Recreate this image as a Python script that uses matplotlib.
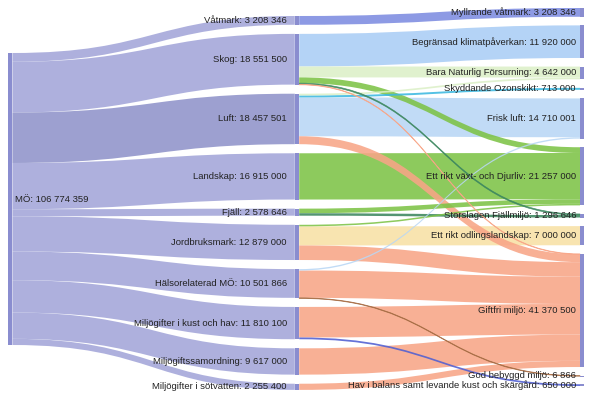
import matplotlib
matplotlib.use("Agg")
import matplotlib.pyplot as plt
from matplotlib.path import Path
from matplotlib.patches import PathPatch, Rectangle

# ---------------- data ----------------
root_name = "MÖ"
middle_names = ["Våtmark", "Skog", "Luft", "Landskap", "Fjäll", "Jordbruksmark",
                "Hälsorelaterad MÖ", "Miljögifter i kust och hav",
                "Miljögiftssamordning", "Miljögifter i sötvatten"]
middle_values = [3208346, 18551500, 18457501, 16915000, 2578646, 12879000,
                 10501866, 11810100, 9617000, 2255400]
right_names = ["Myllrande våtmark", "Begränsad klimatpåverkan", "Bara Naturlig Försurning",
               "Skyddande Ozonskikt", "Frisk luft", "Ett rikt växt- och Djurliv",
               "Storslagen Fjällmiljö", "Ett rikt odlingslandskap", "Giftfri miljö",
               "God bebyggd miljö", "Hav i balans samt levande kust och skärgård"]
link_src = ["Våtmark",
            "Skog", "Skog", "Skog", "Skog", "Skog",
            "Luft", "Luft", "Luft", "Luft",
            "Landskap",
            "Fjäll", "Fjäll",
            "Jordbruksmark", "Jordbruksmark", "Jordbruksmark",
            "Hälsorelaterad MÖ", "Hälsorelaterad MÖ", "Hälsorelaterad MÖ",
            "Miljögifter i kust och hav", "Miljögifter i kust och hav",
            "Miljögiftssamordning",
            "Miljögifter i sötvatten"]
link_dst = ["Myllrande våtmark",
            "Begränsad klimatpåverkan", "Bara Naturlig Försurning", "Ett rikt växt- och Djurliv",
            "Storslagen Fjällmiljö", "Giftfri miljö",
            "Bara Naturlig Försurning", "Skyddande Ozonskikt", "Frisk luft", "Giftfri miljö",
            "Ett rikt växt- och Djurliv",
            "Ett rikt växt- och Djurliv", "Storslagen Fjällmiljö",
            "Ett rikt växt- och Djurliv", "Ett rikt odlingslandskap", "Giftfri miljö",
            "Frisk luft", "Giftfri miljö", "God bebyggd miljö",
            "Giftfri miljö", "Hav i balans samt levande kust och skärgård",
            "Giftfri miljö",
            "Giftfri miljö"]
link_val = [3208346,
            11920000, 4000000, 2100000, 396500, 135000,
            642000, 713000, 14202501, 2900000,
            16915000,
            1678500, 900146,
            563500, 7000000, 5315500,
            507500, 9987500, 6866,
            11160100, 650000,
            9617000,
            2255400]

# ---------------- styles ----------------
middle_link_colors = ["#a5a8da", "#a5a8da", "#9296cb", "#a5a8da", "#a5a8da", "#a5a8da",
                      "#a5a8da", "#a5a8da", "#a5a8da", "#a5a8da"]
right_link_colors = ["#7d8ce1", "#aacdf5", "#dcf0c8", "#3cb9e1", "#b9d7f5", "#7dc346",
                     "#3c875f", "#f8e1a5", "#f8a587", "#a86e46", "#505fd2"]
node_color = "#8a8dcf"
font_family = ["Liberation Sans", "DejaVu Sans"]
fsize = 6.8

W, H = 592, 395
fig = plt.figure(figsize=(W / 100, H / 100), dpi=100)
ax = fig.add_axes([0, 0, 1, 1])
ax.set_xlim(0, W)
ax.set_ylim(H, 0)
ax.axis("off")

# ---------------- layout ----------------
total = sum(middle_values)
k = 292.0 / total
left_top = 53.0
mid_top, mid_gap = 16.0, 9.1
right_top, right_gap = 8.0, 8.6
nw = 4.4
x_left, x_mid, x_right = 8.0, 294.8, 580.0

right_values = [sum(v for d, v in zip(link_dst, link_val) if d == n) for n in right_names]


def stack(top, gap, values):
    ys = []
    y = top
    for v in values:
        ys.append(y)
        y += max(v * k, 0.0) + gap
    return ys


mid_y = stack(mid_top, mid_gap, middle_values)
right_y = stack(right_top, right_gap, right_values)

patches = []


def band(x0, y0, x1, y1, w, color, alpha=0.9):
    xm = (x0 + x1) / 2.0
    verts = [(x0, y0), (xm, y0), (xm, y1), (x1, y1), (x1, y1 + w),
             (xm, y1 + w), (xm, y0 + w), (x0, y0 + w), (x0, y0)]
    codes = [Path.MOVETO, Path.CURVE4, Path.CURVE4, Path.CURVE4, Path.LINETO,
             Path.CURVE4, Path.CURVE4, Path.CURVE4, Path.CLOSEPOLY]
    lw = 0.5 if w < 1.2 else 0
    p = PathPatch(Path(verts, codes), facecolor=color, edgecolor=color,
                  linewidth=lw, alpha=alpha)
    patches.append((w, p))


# stage 1: root -> middle
y = left_top
for i, v in enumerate(middle_values):
    w = v * k
    band(x_left + nw, y, x_mid, mid_y[i], w, middle_link_colors[i])
    y += w

# stage 2: middle -> right
links = list(zip(link_src, link_dst, link_val))
src_off = {n: mid_y[i] for i, n in enumerate(middle_names)}
dst_off = {n: right_y[i] for i, n in enumerate(right_names)}
src_pos = {}
for s, d, v in sorted(links, key=lambda t: (middle_names.index(t[0]), right_names.index(t[1]))):
    src_pos[(s, d)] = src_off[s]
    src_off[s] += v * k
dst_pos = {}
for s, d, v in sorted(links, key=lambda t: (right_names.index(t[1]), middle_names.index(t[0]))):
    dst_pos[(s, d)] = dst_off[d]
    dst_off[d] += v * k
for s, d, v in links:
    w = max(v * k, 0.6)
    band(x_mid + nw, src_pos[(s, d)], x_right, dst_pos[(s, d)], w,
         right_link_colors[right_names.index(d)], alpha=0.88)

for w, p in sorted(patches, key=lambda t: -t[0]):
    ax.add_patch(p)

# ---------------- nodes ----------------
ax.add_patch(Rectangle((x_left, left_top), nw, total * k, color=node_color, lw=0, zorder=3))
for i, v in enumerate(middle_values):
    ax.add_patch(Rectangle((x_mid, mid_y[i]), nw, max(v * k, 1), color=node_color, lw=0, zorder=3))
for i, v in enumerate(right_values):
    ax.add_patch(Rectangle((x_right, right_y[i]), nw, max(v * k, 1), color=node_color, lw=0, zorder=3))


def fmt(v):
    return f"{v:,}".replace(",", " ")


txt = dict(fontsize=fsize, family=font_family, color="#222222", va="center", zorder=5)
ax.text(x_left + nw + 3, left_top + total * k / 2, f"{root_name}: {fmt(total)}", ha="left", **txt)
for i, v in enumerate(middle_values):
    ax.text(x_mid - 8, mid_y[i] + v * k / 2, f"{middle_names[i]}: {fmt(v)}", ha="right", **txt)
for i, v in enumerate(right_values):
    ax.text(x_right - 4, right_y[i] + v * k / 2, f"{right_names[i]}: {fmt(v)}", ha="right", **txt)

fig.savefig("out.png", dpi=100)
